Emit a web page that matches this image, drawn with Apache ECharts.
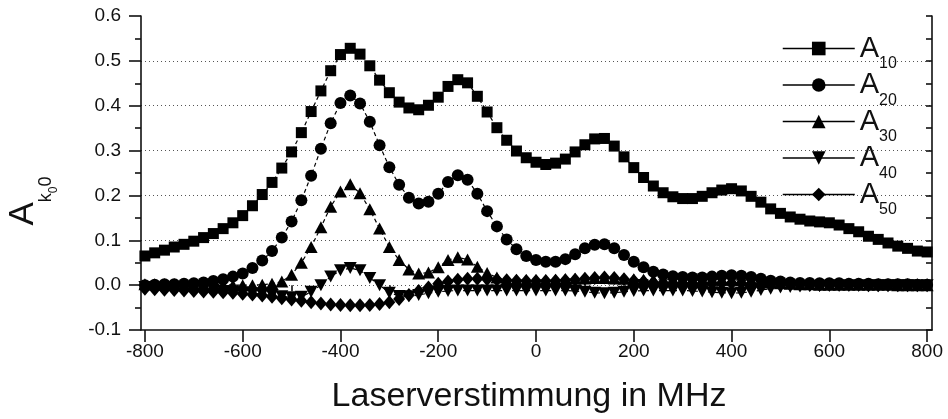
<!DOCTYPE html>
<html>
<head>
<meta charset="utf-8">
<script src="https://cdn.jsdelivr.net/npm/echarts@6/dist/echarts.min.js"></script>
<style>
  html, body { margin: 0; padding: 0; background: #fff; }
  #chart { width: 948px; height: 419px; }
</style>
</head>
<body>
<div id="chart"></div>
<script>
// Laser detuning in MHz (sample positions)
const detuning = [-800,-780,-760,-740,-720,-700,-680,-660,-640,-620,
  -600,-580,-560,-540,-520,-500,-480,-460,-440,-420,
  -400,-380,-360,-340,-320,-300,-280,-260,-240,-220,
  -200,-180,-160,-140,-120,-100,-80,-60,-40,-20,
  0,20,40,60,80,100,120,140,160,180,
  200,220,240,260,280,300,320,340,360,380,
  400,420,440,460,480,500,520,540,560,580,
  600,620,640,660,680,700,720,740,760,780,
  800];

// Coefficients A_k0 for k = 1..5
const a10 = [0.065,0.072,0.078,0.085,0.091,0.098,0.106,0.115,0.126,0.139,
  0.155,0.177,0.202,0.229,0.261,0.297,0.340,0.387,0.433,0.478,
  0.514,0.528,0.515,0.489,0.457,0.429,0.408,0.395,0.391,0.401,
  0.419,0.443,0.458,0.451,0.421,0.386,0.351,0.323,0.299,0.284,
  0.274,0.269,0.272,0.281,0.297,0.313,0.326,0.327,0.310,0.286,
  0.262,0.240,0.221,0.206,0.197,0.193,0.193,0.198,0.206,0.212,
  0.215,0.210,0.198,0.185,0.170,0.160,0.152,0.147,0.143,0.141,
  0.139,0.134,0.126,0.119,0.109,0.102,0.094,0.087,0.082,0.076,
  0.074];

const a20 = [0.000,0.001,0.002,0.002,0.003,0.004,0.006,0.009,0.013,0.019,
  0.026,0.038,0.055,0.076,0.106,0.142,0.189,0.244,0.304,0.361,
  0.406,0.423,0.405,0.364,0.312,0.263,0.224,0.195,0.182,0.186,
  0.204,0.230,0.245,0.235,0.204,0.165,0.131,0.102,0.080,0.065,
  0.056,0.052,0.052,0.058,0.069,0.082,0.090,0.091,0.082,0.067,
  0.052,0.040,0.030,0.024,0.020,0.018,0.017,0.017,0.019,0.021,
  0.022,0.021,0.018,0.014,0.010,0.008,0.006,0.005,0.005,0.004,
  0.004,0.004,0.003,0.003,0.003,0.002,0.002,0.002,0.002,0.001,
  0.001];

const a30 = [0.002,0.002,0.002,0.002,0.002,0.002,0.001,0.001,0.001,0.000,
  0.000,0.000,0.001,0.003,0.008,0.023,0.050,0.085,0.129,0.175,
  0.209,0.225,0.205,0.169,0.126,0.085,0.056,0.035,0.026,0.028,
  0.040,0.056,0.062,0.057,0.041,0.027,0.017,0.012,0.011,0.011,
  0.011,0.011,0.012,0.013,0.014,0.015,0.016,0.016,0.015,0.014,
  0.013,0.012,0.012,0.012,0.012,0.012,0.012,0.012,0.012,0.012,
  0.012,0.011,0.010,0.008,0.006,0.004,0.003,0.002,0.002,0.001,
  0.001,0.001,0.001,0.001,0.001,0.001,0.001,0.000,0.000,0.000,
  0.000];

const a40 = [-0.004,-0.005,-0.006,-0.007,-0.008,-0.009,-0.010,-0.011,-0.013,-0.014,
  -0.016,-0.018,-0.020,-0.022,-0.025,-0.027,-0.026,-0.015,0.000,0.019,
  0.033,0.038,0.033,0.016,0.000,-0.017,-0.024,-0.025,-0.022,-0.018,
  -0.015,-0.013,-0.012,-0.012,-0.012,-0.012,-0.012,-0.012,-0.012,-0.012,
  -0.012,-0.012,-0.012,-0.012,-0.013,-0.015,-0.017,-0.018,-0.017,-0.015,
  -0.013,-0.012,-0.012,-0.012,-0.012,-0.012,-0.013,-0.014,-0.016,-0.017,
  -0.018,-0.017,-0.015,-0.011,-0.008,-0.005,-0.004,-0.003,-0.002,-0.002,
  -0.001,-0.001,-0.001,-0.001,-0.001,0.000,0.000,0.000,0.000,0.000,
  0.000];

const a50 = [-0.008,-0.009,-0.010,-0.011,-0.012,-0.013,-0.014,-0.015,-0.016,-0.017,
  -0.019,-0.021,-0.023,-0.026,-0.029,-0.032,-0.035,-0.038,-0.041,-0.043,
  -0.044,-0.045,-0.045,-0.044,-0.042,-0.038,-0.031,-0.022,-0.013,-0.005,
  0.003,0.008,0.012,0.014,0.014,0.013,0.012,0.011,0.010,0.009,
  0.009,0.009,0.010,0.011,0.012,0.014,0.016,0.017,0.016,0.013,
  0.010,0.008,0.006,0.005,0.004,0.004,0.003,0.003,0.004,0.004,
  0.004,0.004,0.003,0.002,0.002,0.002,0.002,0.001,0.001,0.001,
  0.001,0.001,0.001,0.001,0.000,0.000,0.000,0.000,0.000,0.000,
  0.000];

// Axis tick positions
const xMajorTicks = [-800,-600,-400,-200,0,200,400,600,800];
const xMinorTicks = [-700,-500,-300,-100,100,300,500,700];

const seriesNames = ['A10','A20','A30','A40','A50'];
const seriesValues = [a10, a20, a30, a40, a50];
const seriesSymbols = [
  { symbol: 'rect', size: 11, rotate: 0 },
  { symbol: 'circle', size: 12, rotate: 0 },
  { symbol: 'triangle', size: [13, 12], rotate: 0 },
  { symbol: 'triangle', size: [13, 12], rotate: 180 },
  { symbol: 'diamond', size: [12, 14], rotate: 0 }
];

const FONT = "'Liberation Sans', Arial, Helvetica, sans-serif";
const INK = '#111';

const chart = echarts.init(document.getElementById('chart'), null, { renderer: 'canvas' });

const series = seriesNames.map((name, i) => ({
  name: name,
  type: 'line',
  xAxisIndex: 0,
  yAxisIndex: 0,
  data: detuning.map((x, j) => [x, seriesValues[i][j]]),
  symbol: seriesSymbols[i].symbol,
  symbolSize: seriesSymbols[i].size,
  symbolRotate: seriesSymbols[i].rotate,
  showAllSymbol: true,
  clip: false,
  itemStyle: { color: '#000', borderWidth: 0 },
  lineStyle: { color: '#000', width: 1.2, type: [4, 3] },
  emphasis: { disabled: true },
  z: 2 + i
}));

chart.setOption({
  animation: false,
  backgroundColor: '#fff',
  grid: { left: 141, right: 16, top: 16, bottom: 89, containLabel: false, outerBoundsMode: 'none' },
  legend: {
    orient: 'vertical',
    left: 782,
    top: 25,
    padding: 0,
    itemGap: -10.5,
    itemWidth: 72,
    itemHeight: 17,
    selectedMode: false,
    data: seriesNames,
    lineStyle: { type: 'solid', width: 1.5, color: '#000' },
    formatter: function (name) {
      return '{a|A}{s|' + name.slice(1) + '}';
    },
    textStyle: {
      fontFamily: FONT,
      color: INK,
      rich: {
        a: { fontSize: 29, lineHeight: 30, fontFamily: FONT, color: INK },
        s: { fontSize: 16, lineHeight: 20, padding: [31, 0, 0, 0], fontFamily: FONT, color: INK }
      }
    }
  },
  xAxis: [
    {
      type: 'value',
      min: -808,
      max: 810,
      name: 'Laserverstimmung in MHz',
      nameLocation: 'middle',
      nameGap: 50,
      nameTextStyle: { fontFamily: FONT, fontSize: 34, color: INK, padding: [0, 15, 0, 0] },
      axisLine: { show: true, onZero: false, lineStyle: { color: INK, width: 1.6 } },
      axisTick: { show: true, inside: false, length: 12, customValues: xMajorTicks, lineStyle: { color: INK, width: 1.6 } },
      axisLabel: { show: true, margin: 12, customValues: xMajorTicks, fontFamily: FONT, fontSize: 19, color: INK,
        formatter: v => String(v) },
      splitLine: { show: false }
    },
    {
      type: 'value',
      min: -808,
      max: 810,
      position: 'bottom',
      axisLine: { show: false },
      axisTick: { show: true, inside: false, length: 6, customValues: xMinorTicks, lineStyle: { color: INK, width: 1.6 } },
      axisLabel: { show: false },
      splitLine: { show: false }
    }
  ],
  yAxis: [
    {
      type: 'value',
      min: -0.1,
      max: 0.6,
      interval: 0.1,
      position: 'left',
      name: '{a|A}{k|k}{z|0}{k|0}',
      nameLocation: 'middle',
      nameRotate: 90,
      nameGap: 100,
      nameTextStyle: {
        fontFamily: FONT,
        color: INK,
        padding: [0, 56, 0, 0],
        rich: {
          a: { fontSize: 35, lineHeight: 36, fontFamily: FONT, color: INK },
          k: { fontSize: 18, lineHeight: 18, padding: [46, 0, 0, 0], fontFamily: FONT, color: INK },
          z: { fontSize: 12, lineHeight: 12, padding: [62, 0, 0, 0], fontFamily: FONT, color: INK }
        }
      },
      axisLine: { show: true, onZero: false, lineStyle: { color: INK, width: 1.6 } },
      axisTick: { show: true, inside: false, length: 12, lineStyle: { color: INK, width: 1.6 } },
      minorTick: { show: true, splitNumber: 2, length: 6, lineStyle: { color: INK, width: 1.6 } },
      axisLabel: { margin: 20, fontFamily: FONT, fontSize: 19, color: INK, formatter: v => v.toFixed(1) },
      splitLine: { show: true, showMinLine: false, showMaxLine: false,
        lineStyle: { color: '#555', width: 1, type: [1, 3] } }
    },
    {
      type: 'value',
      min: -0.1,
      max: 0.6,
      interval: 0.05,
      position: 'right',
      axisLine: { show: true, onZero: false, lineStyle: { color: INK, width: 1.6 } },
      axisTick: { show: true, inside: true, length: 6, lineStyle: { color: INK, width: 1.6 } },
      axisLabel: { show: false },
      splitLine: { show: false }
    }
  ],
  series: series
});
</script>
</body>
</html>
